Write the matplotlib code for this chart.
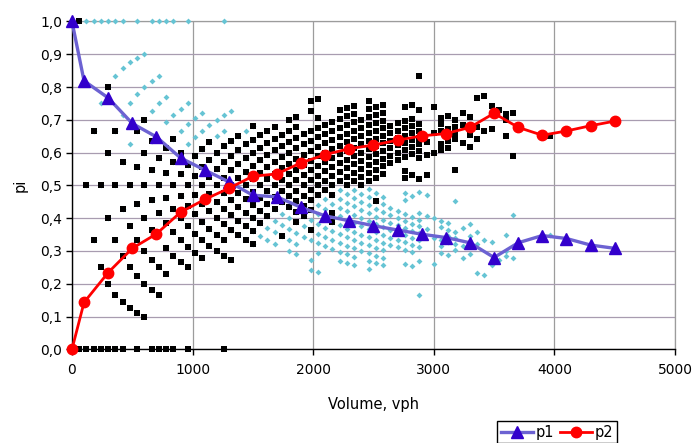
import matplotlib
matplotlib.use("Agg")
import matplotlib.pyplot as plt
from matplotlib.lines import Line2D

plt.rcParams['font.family'] = ['DejaVu Sans']

# observations: vehicles counted in one minute (n) and how many of them were type 2 (k)
veh_per_min = [1, 2, 3, 4, 5, 6, 7, 8, 9, 10,
               11, 12, 13, 14, 15, 16, 17, 18, 19, 20,
               21, 22, 23, 24, 25, 26, 27, 28, 29, 30,
               31, 32, 33, 34, 35, 36, 37, 38, 39, 40,
               41, 42, 43, 44, 45, 46, 47, 48, 49, 50,
               51, 52, 53, 54, 55, 56, 57, 58, 59, 60,
               61, 66]
type2_count = [
    [0, 1], [0, 1], [0, 1, 2], [0, 1, 2], [0, 1, 2, 3, 4],
    [0, 1, 2, 3, 4], [0, 1, 2, 3, 4], [1, 2, 3, 4], [0, 1, 2, 3, 4, 5, 6], [1, 2, 3, 4, 5, 6, 7],
    [0, 2, 3, 4, 5, 6, 7], [0, 2, 3, 5, 6, 7], [0, 3, 4, 5, 6, 7, 8], [0, 4, 5, 6, 7, 8, 9], [4, 5, 6, 7, 8, 9],
    [0, 4, 5, 6, 7, 8, 9], [5, 6, 7, 8, 9, 10], [5, 6, 7, 8, 9, 10, 11], [6, 7, 8, 9, 10, 11, 12], [6, 7, 8, 9, 10, 11, 12],
    [0, 6, 7, 8, 9, 10, 11, 12, 13], [6, 8, 9, 10, 11, 12, 13, 14], [8, 9, 10, 11, 12, 13, 14, 15],
    [8, 9, 10, 11, 12, 13, 14, 15], [8, 9, 10, 11, 12, 13, 14, 15, 16, 17],
    [10, 11, 12, 13, 14, 15, 16, 17], [11, 12, 13, 14, 15, 16, 17, 18], [12, 13, 14, 15, 16, 17, 18, 19],
    [10, 13, 14, 15, 16, 17, 18, 19], [13, 14, 15, 16, 17, 18, 19, 20, 21],
    [12, 13, 14, 15, 16, 17, 18, 19, 20, 21, 22], [13, 14, 15, 16, 17, 18, 19, 20, 21],
    [12, 14, 15, 16, 17, 18, 19, 20, 21, 22, 24, 25], [16, 17, 18, 19, 20, 21, 22, 23, 24, 26],
    [17, 18, 19, 20, 21, 22, 23, 24], [14, 15, 17, 18, 19, 20, 21, 22, 23, 24, 25],
    [19, 20, 21, 22, 23, 24, 25, 26, 27], [19, 20, 21, 22, 23, 24, 25, 26, 27, 28],
    [20, 21, 22, 23, 24, 25, 26, 27, 28, 29], [20, 21, 22, 23, 24, 25, 26, 27, 28],
    [21, 22, 23, 24, 25, 26, 27, 28, 29, 30, 31], [19, 22, 23, 24, 25, 26, 27, 28, 29, 30, 31],
    [23, 24, 25, 26, 27, 28, 29, 30, 31, 32], [25, 26, 27, 28, 29, 30],
    [26, 27, 28, 29, 30, 31], [24, 25, 27, 28, 29, 30, 31, 32, 34],
    [25, 28, 29, 30, 31, 32, 33, 35], [25, 28, 29, 30, 31, 32, 33, 35, 40],
    [26, 29, 31], [30, 33, 37],
    [31, 32, 34, 35, 36], [32, 33, 34, 35, 37], [29, 34, 35, 36, 37],
    [34, 37, 39], [34, 36, 37, 39], [36, 38, 43], [38, 44], [39, 43], [43], [39, 42, 43],
    [36, 44], [43],
]

# averaged curves
volume = [0, 100, 300, 500, 700, 900, 1100, 1300, 1500, 1700, 1900, 2100,
          2300, 2500, 2700, 2900, 3100, 3300, 3500, 3700, 3900, 4100, 4300, 4500]
p1 = [1.0, 0.819, 0.767, 0.689, 0.648, 0.584, 0.547, 0.511, 0.470, 0.465, 0.433, 0.407,
      0.392, 0.377, 0.364, 0.351, 0.341, 0.325, 0.280, 0.325, 0.347, 0.338, 0.318, 0.308]
p2 = [0.0, 0.143, 0.234, 0.308, 0.352, 0.418, 0.457, 0.491, 0.528, 0.535, 0.569, 0.594,
      0.612, 0.623, 0.638, 0.651, 0.658, 0.677, 0.720, 0.677, 0.653, 0.666, 0.682, 0.696]

x_ticks = [0, 1000, 2000, 3000, 4000, 5000]
y_ticks = [0.0, 0.1, 0.2, 0.3, 0.4, 0.5, 0.6, 0.7, 0.8, 0.9, 1.0]

# flatten observations (volume in vph, share of each type)
obs_vph, obs_p2 = [], []
for n, ks in zip(veh_per_min, type2_count):
    for k in ks:
        obs_vph.append(60 * n)
        obs_p2.append(k / n)
obs_p1 = [1 - p for p in obs_p2]

fig = plt.figure(figsize=(6.94, 4.43), dpi=100)
ax = fig.add_axes([0.1037, 0.2115, 0.8689, 0.740])

ax.scatter(obs_vph, obs_p1, marker='D', s=9, color='#66C4D4', linewidths=0, zorder=3, clip_on=False)
ax.scatter(obs_vph, obs_p2, marker='s', s=14, color='black', linewidths=0, zorder=3, clip_on=False)

ax.plot(volume, p1, color='#6C62D2', lw=2.4, marker='^', ms=8,
        mfc='#3300CC', mec='#3300CC', zorder=5, clip_on=False)
ax.plot(volume, p2, color='#FF0000', lw=2.0, marker='o', ms=7.5,
        mfc='#FF0000', mec='#FF0000', zorder=6, clip_on=False)

ax.set_xlim(0, 5000)
ax.set_ylim(0, 1)
ax.set_xticks(x_ticks)
ax.set_yticks(y_ticks)
ax.set_yticklabels([f'{v:.1f}'.replace('.', ',') for v in y_ticks])
ax.tick_params(axis='both', direction='out', length=4, width=1, labelsize=10, colors='black')
ax.tick_params(axis='y', pad=3)
ax.tick_params(axis='x', pad=6)

ax.grid(True, axis='x', color='#9C9C9C', lw=0.9)
ax.grid(True, axis='y', color='#A89CB0', lw=0.9)
ax.set_axisbelow(True)
for s in ['top', 'right']:
    ax.spines[s].set_color('#9C9C9C')
    ax.spines[s].set_linewidth(0.9)
ax.spines['left'].set_linewidth(1.0)
ax.spines['bottom'].set_linewidth(1.0)

ax.set_xlabel('Volume, vph', fontsize=10.5, labelpad=14)
ax.set_ylabel('pi', fontsize=10.5, labelpad=9)

handles = [
    Line2D([], [], color='#6C62D2', lw=2.4, marker='^', ms=8, mfc='#3300CC', mec='#3300CC'),
    Line2D([], [], color='#FF0000', lw=2.0, marker='o', ms=7.5, mfc='#FF0000', mec='#FF0000'),
]
fig.legend(handles, ['p1', 'p2'], loc='upper left', bbox_to_anchor=(497 / 694, 1 - 421 / 443),
           ncol=2, frameon=True, fancybox=False, edgecolor='black', framealpha=1,
           fontsize=10.5, borderpad=0.25, handlelength=2.2, handletextpad=0.2,
           columnspacing=0.4, borderaxespad=0)

fig.savefig('out.png', dpi=100)
